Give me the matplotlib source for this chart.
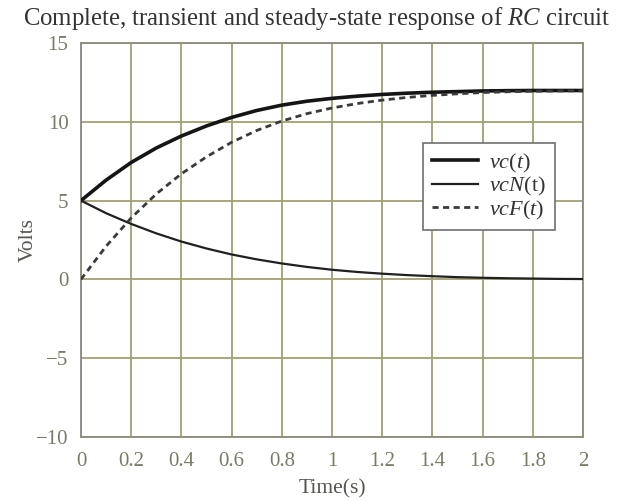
import matplotlib
matplotlib.use("Agg")
import matplotlib.pyplot as plt

plt.rcParams['font.family'] = ['Liberation Serif', 'DejaVu Serif']
plt.rcParams['mathtext.fontset'] = 'custom'
plt.rcParams['mathtext.it'] = 'Liberation Serif:italic'
plt.rcParams['mathtext.rm'] = 'Liberation Serif'

# Data
t = [0.0, 0.1, 0.2, 0.3, 0.4, 0.5, 0.6, 0.7, 0.8, 0.9, 1.0,
     1.1, 1.2, 1.3, 1.4, 1.5, 1.6, 1.7, 1.8, 1.9, 2.0]
vcN = [5.00, 4.20, 3.52, 2.92, 2.40, 1.96, 1.58, 1.27, 1.01, 0.79, 0.61,
       0.47, 0.36, 0.27, 0.20, 0.14, 0.10, 0.07, 0.05, 0.03, 0.02]
vcF = [0.00, 2.10, 3.90, 5.42, 6.70, 7.78, 8.70, 9.45, 10.05, 10.52, 10.88,
       11.16, 11.38, 11.55, 11.68, 11.78, 11.86, 11.91, 11.94, 11.96, 11.97]
vc = [5.00, 6.30, 7.42, 8.34, 9.10, 9.74, 10.28, 10.72, 11.06, 11.31, 11.49,
      11.63, 11.74, 11.82, 11.88, 11.92, 11.96, 11.98, 11.99, 11.99, 11.99]

xticks = [0, 0.2, 0.4, 0.6, 0.8, 1, 1.2, 1.4, 1.6, 1.8, 2]
xticklabels = ['0', '0.2', '0.4', '0.6', '0.8', '1', '1.2', '1.4', '1.6', '1.8', '2']
yticks = [-10, -5, 0, 5, 10, 15]
yticklabels = ['\u221210', '\u22125', '0', '5', '10', '15']

fig = plt.figure(figsize=(6.2, 5.01), dpi=100)
ax = fig.add_axes([0.1306, 0.128, 0.8097, 0.786])

ax.plot(t, vc, color='#151515', lw=2.6, label='$vc(t)$', zorder=3)
ax.plot(t, vcN, color='#202020', lw=1.6, label=r'$vcN(\mathrm{t})$', zorder=3)
ax.plot(t, vcF, color='#3a3a3a', lw=2.0, ls=(0, (2.2, 1.6)), label='$vcF(t)$', zorder=3)

ax.set_xlim(0, 2)
ax.set_ylim(-10, 15)
ax.set_xticks(xticks)
ax.set_xticklabels(xticklabels)
ax.set_yticks(yticks)
ax.set_yticklabels(yticklabels)
ax.grid(True, color='#a0a070', lw=1.3)
ax.set_axisbelow(True)
for s in ax.spines.values():
    s.set_color('#8a8a7a')
    s.set_linewidth(1.3)
ax.tick_params(length=0, labelsize=15, labelcolor='#7a7a68')
ax.tick_params(axis='x', pad=11)
ax.tick_params(axis='y', pad=9)

ax.set_xlabel('Time(s)', fontsize=15.5, color='#555550', labelpad=6)
ax.set_ylabel('Volts', fontsize=15.5, color='#555550')
ax.yaxis.set_label_coords(-0.086, 0.5)
fig.text(0.511, 0.963, 'Complete, transient and steady-state response of $RC$ circuit',
         ha='center', va='center', fontsize=17.8, color='#333333')

leg = ax.legend(loc='upper right', bbox_to_anchor=(0.944, 0.747), fontsize=16,
                fancybox=False, framealpha=1, edgecolor='#707070', borderaxespad=0,
                handlelength=2.1, borderpad=0.4, labelspacing=0.02, handletextpad=0.5)
leg.get_frame().set_linewidth(1.2)
for txt in leg.get_texts():
    txt.set_color('#333333')

fig.savefig('out.png', dpi=100)
